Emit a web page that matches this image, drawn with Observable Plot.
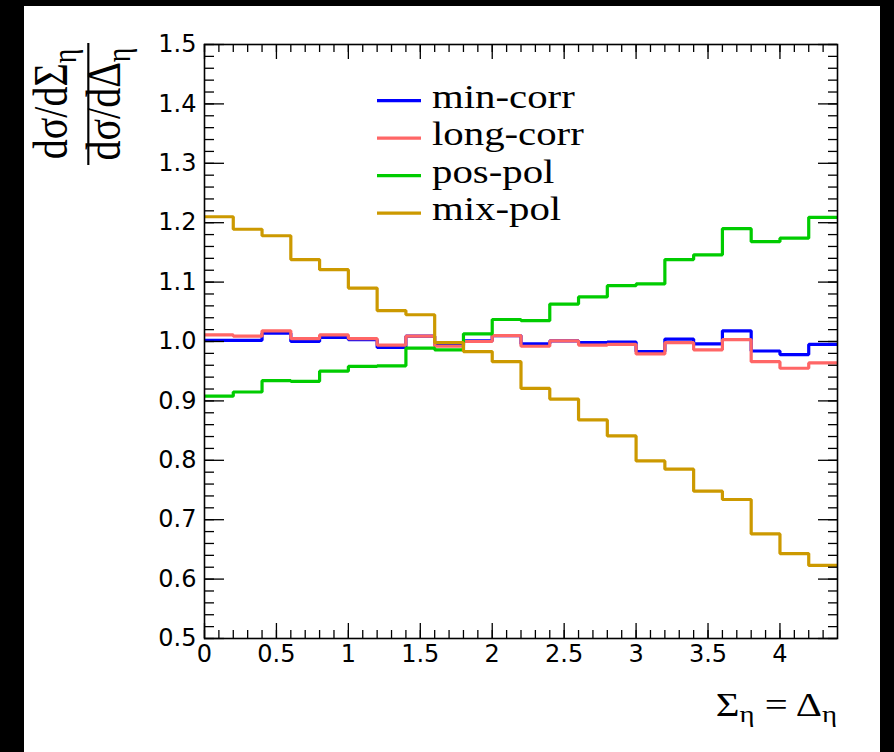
<!DOCTYPE html>
<html><head><meta charset="utf-8">
<script src="https://cdn.jsdelivr.net/npm/d3@7"></script>
<script src="https://cdn.jsdelivr.net/npm/@observablehq/plot@0.6"></script>
<style>
html,body{margin:0;padding:0;background:#000;}
#page{position:relative;width:894px;height:752px;background:#000;overflow:hidden;}
#panel{position:absolute;left:24px;top:6px;width:856px;height:746px;background:#fff;}
#overlay{position:absolute;left:0;top:0;pointer-events:none;}
</style></head>
<body><div id="page"><div id="panel"></div></div>
<script>
// ---- data ----
const binEdges = [0,0.2,0.4,0.6,0.8,1.0,1.2,1.4,1.6,1.8,2.0,2.2,2.4,2.6,2.8,3.0,3.2,3.4,3.6,3.8,4.0,4.2];
const xMax = 4.4;
const seriesNames = ["min-corr","long-corr","pos-pol","mix-pol"];
const seriesColors = ["#0000ff","#ff6666","#00cc00","#cc9900"];
const minCorr  = [1.002,1.002,1.014,1.000,1.007,1.003,0.990,1.009,0.994,1.001,1.010,0.996,1.001,0.998,0.999,0.983,1.004,0.996,1.018,0.984,0.978,0.995];
const longCorr = [1.011,1.009,1.018,1.005,1.011,1.005,0.994,1.009,0.992,1.000,1.010,0.992,1.001,0.994,0.995,0.979,0.998,0.986,1.003,0.966,0.955,0.964];
const posPol   = [0.908,0.915,0.934,0.933,0.950,0.958,0.959,0.989,0.986,1.013,1.037,1.035,1.063,1.075,1.094,1.097,1.138,1.146,1.190,1.168,1.174,1.209];
const mixPol   = [1.210,1.189,1.178,1.138,1.121,1.090,1.052,1.045,0.998,0.983,0.966,0.921,0.903,0.868,0.841,0.799,0.785,0.748,0.734,0.676,0.643,0.623];
const seriesValues = [minCorr, longCorr, posPol, mixPol];
const xTickValues = [0,0.5,1,1.5,2,2.5,3,3.5,4];
const xTickLabels = ["0","0.5","1","1.5","2","2.5","3","3.5","4"];
const yTickValues = [0.5,0.6,0.7,0.8,0.9,1.0,1.1,1.2,1.3,1.4,1.5];
const yTickLabels = ["0.5","0.6","0.7","0.8","0.9","1.0","1.1","1.2","1.3","1.4","1.5"];

// ---- build step rows ----
const rows = [];
seriesNames.forEach((s, k) => {
  const v = seriesValues[k];
  binEdges.forEach((e, i) => rows.push({s, x: e, y: v[i]}));
  rows.push({s, x: xMax, y: v[v.length - 1]});
});

const W = 856, H = 746, mL = 180, mR = 43, mT = 38, mB = 114;
const fw = W - mL - mR, fh = H - mT - mB;
const xMinor = d3.range(0, 44).map(i => i / 10);
const yMinor = d3.range(0, 51).map(i => 0.5 + i * 0.02);

const plot = Plot.plot({
  width: W, height: H,
  marginLeft: mL, marginRight: mR, marginTop: mT, marginBottom: mB,
  x: {domain: [0, xMax], label: null},
  y: {domain: [0.5, 1.5], label: null},
  color: {domain: seriesNames, range: seriesColors},
  style: {fontFamily: "DejaVu Sans", fontSize: "24px", background: "white", color: "black", overflow: "visible"},
  marks: [
    Plot.line(rows, {x: "x", y: "y", z: "s", stroke: "s", curve: "step-after", strokeWidth: 3.2, strokeLinejoin: "miter", strokeLinecap: "butt"}),
    // inner ticks bottom/top
    Plot.tickX(xMinor, {x: d => d, insetTop: fh - 8, stroke: "black", strokeWidth: 1.3}),
    Plot.tickX(xTickValues, {x: d => d, insetTop: fh - 15, stroke: "black", strokeWidth: 1.3}),
    Plot.tickX(xMinor, {x: d => d, insetBottom: fh - 8, stroke: "black", strokeWidth: 1.3}),
    Plot.tickX(xTickValues, {x: d => d, insetBottom: fh - 15, stroke: "black", strokeWidth: 1.3}),
    // inner ticks left/right
    Plot.tickY(yMinor, {y: d => d, insetRight: fw - 10, stroke: "black", strokeWidth: 1.3}),
    Plot.tickY(yTickValues, {y: d => d, insetRight: fw - 20, stroke: "black", strokeWidth: 1.3}),
    Plot.tickY(yMinor, {y: d => d, insetLeft: fw - 9, stroke: "black", strokeWidth: 1.3}),
    Plot.tickY(yTickValues, {y: d => d, insetLeft: fw - 19, stroke: "black", strokeWidth: 1.3}),
    Plot.frame({stroke: "black", strokeWidth: 1.6}),
    Plot.axisX({ticks: xTickValues, tickFormat: (d) => xTickLabels[xTickValues.indexOf(d)], tickSize: 0, tickPadding: 6, label: null}),
    Plot.axisY({ticks: yTickValues, tickFormat: (d) => yTickLabels[yTickValues.indexOf(d)], tickSize: 0, tickPadding: 8, label: null})
  ]
});
document.getElementById("panel").appendChild(plot);

// ---- overlay: legend and axis titles ----
const svg = d3.select("#page").append("svg").attr("id", "overlay").attr("width", 894).attr("height", 752);
const serif = "Liberation Serif";
const lg = svg.append("g");
seriesNames.forEach((s, i) => {
  const yc = 100.7 + i * 37.5;
  lg.append("line").attr("x1", 377).attr("x2", 421).attr("y1", yc).attr("y2", yc)
    .attr("stroke", seriesColors[i]).attr("stroke-width", 3.3);
  lg.append("text").attr("transform", `translate(432,${yc + 7}) scale(1.2,1)`)
    .attr("font-family", serif).attr("font-size", 34).attr("fill", "black").text(s);
});

// x title
const xt = svg.append("text").attr("transform", "translate(837,716) scale(1.2,1)")
  .attr("text-anchor", "end").attr("font-family", serif).attr("font-size", 34).attr("fill", "black");
xt.append("tspan").text("Σ");
xt.append("tspan").attr("font-size", 24).attr("dy", 6).text("η");
xt.append("tspan").attr("dy", -6).text(" = Δ");
xt.append("tspan").attr("font-size", 24).attr("dy", 6).text("η");

// y title (fraction, rotated)
const yg = svg.append("g").attr("transform", "translate(0,104) scale(1.2,1) rotate(-90)")
  .attr("font-family", serif).attr("font-size", 40).attr("fill", "black");
function frac(g, y, main, sym) {
  const t = g.append("text").attr("x", 0).attr("y", y).attr("text-anchor", "middle");
  t.append("tspan").text(main + sym);
  t.append("tspan").attr("font-size", 28).attr("dy", 8).text("η");
}
frac(yg, 55.6, "dσ/d", "Σ");
yg.append("line").attr("x1", -61).attr("x2", 61).attr("y1", 73.6).attr("y2", 73.6)
  .attr("stroke", "black").attr("stroke-width", 1.8);
frac(yg, 100, "dσ/d", "Δ");
</script></body></html>
